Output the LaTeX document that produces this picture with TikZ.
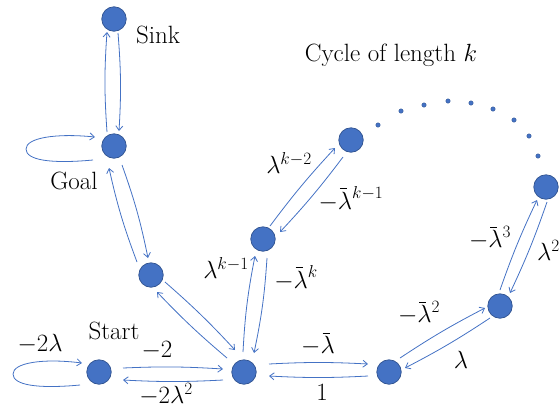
\documentclass[tikz,border=0pt]{standalone}
\usetikzlibrary{arrows.meta,calc}
\definecolor{nodefill}{HTML}{4472C4}
\definecolor{nodeline}{HTML}{2F528F}
\definecolor{edgecol}{HTML}{4472C4}
\newcommand{\lamb}{\mathord{\lambda\llap{\smash{\rule[0.77em]{0.27em}{0.04em}}\kern0.2em}}}
\begin{document}
\begin{tikzpicture}[x=1pt,y=-1pt,
  state/.style={circle,fill=nodefill,draw=nodeline,line width=0.7pt,minimum size=24.5pt,inner sep=0pt},
  arr/.style={draw=edgecol,line width=0.8pt,-{Straight Barb[length=4.5pt,width=7pt]}},
  dotnode/.style={circle,fill=nodefill,draw=nodeline,line width=0.3pt,minimum size=4.5pt,inner sep=0pt},
  txt/.style={inner sep=0pt,font=\fontsize{25}{30}\selectfont},
  lab/.style={inner sep=0pt,font=\fontsize{26}{30}\selectfont}]
\useasboundingbox (0,0) rectangle (559,408);
% states
\node[state] (sink)  at (114,19) {};
\node[state] (goal)  at (114,146) {};
\node[state] (mid)   at (151,275) {};
\node[state] (start) at (99,372) {};
\node[state] (hub)   at (244,372) {};
\node[state] (ca)    at (263,239) {};
\node[state] (cb)    at (351,140) {};
\node[state] (cc)    at (389,372) {};
\node[state] (cd)    at (500,306) {};
\node[state] (ce)    at (546,187) {};
% dots of the cycle
\foreach \p/\q [count=\i] in {378/125,401/111,424/105,448/101,471/103,493/109,514/120,529/136,538/156}
  \node[dotnode] (dot\i) at (\p,\q) {};
% text labels
\node[txt] (sinklab)  at (158,35) {Sink};
\node[txt] (goallab)  at (74,181) {Goal};
\node[txt] (startlab) at (114,331) {Start};
\node[txt] (cyclelab) at (391,55) {Cycle of length $k$};
% edges
\draw[arr] ($(goal)+(-7,-14)$) to[bend left=4] ($(sink)+(-7,13)$);
\draw[arr] ($(sink)+(4,14)$) to[bend left=4] ($(goal)+(5,-15)$);
\draw[arr] ($(goal)+(8,19)$) to[bend left=4] ($(mid)+(-3,-17)$);
\draw[arr] ($(mid)+(-14,-13)$) to[bend left=4] ($(goal)+(-5,22)$);
\draw[arr] ($(mid)+(14,7)$) to[bend left=3] ($(hub)+(-9,-22)$);
\draw[arr] ($(hub)+(-17,-14)$) to[bend left=3] ($(mid)+(6,17)$);
\draw[arr] ($(start)+(24,-4)$) to[bend left=3] ($(hub)+(-21,-3)$);
\draw[arr] ($(hub)+(-21,8)$) to[bend left=3] ($(start)+(24,8)$);
\draw[arr] ($(hub)+(-1,-20)$) to[bend left=4] ($(ca)+(-8,17)$);
\draw[arr] ($(ca)+(4,19)$) to[bend left=4] ($(hub)+(10,-19)$);
\draw[arr] ($(ca)+(7,-13)$) to[bend left=3] ($(cb)+(-16,8)$);
\draw[arr] ($(cb)+(-8,17)$) to[bend left=3] ($(ca)+(17,-7)$);
\draw[arr] ($(hub)+(25,-8)$) to[bend left=3] ($(cc)+(-21,-8)$);
\draw[arr] ($(cc)+(-21,4)$) to[bend left=3] ($(hub)+(25,4)$);
\draw[arr] ($(cc)+(11,-14)$) to[bend left=3] ($(cd)+(-15,2)$);
\draw[arr] ($(cd)+(-10,12)$) to[bend left=3] ($(cc)+(16,-4)$);
\draw[arr] ($(cd)+(0,-16)$) to[bend left=3] ($(ce)+(-9,13)$);
\draw[arr] ($(ce)+(1,15)$) to[bend left=3] ($(cd)+(10,-13)$);
% self loops
\begin{scope}[shift={(goal)}]
\draw[arr] (-21,14) .. controls (-64,18) and (-88,14) .. (-88,3)
                    .. controls (-88,-8) and (-59,-13) .. (-19,-9);
\end{scope}
\begin{scope}[shift={(start)}]
\draw[arr] (-19,13) .. controls (-62,17) and (-86,13) .. (-86,2)
                    .. controls (-86,-9) and (-57,-14) .. (-17,-9);
\end{scope}
% edge labels
\node[lab] (l1)  at (40,344)  {$-2\lambda$};
\node[lab] (l2)  at (157,351) {$-2$};
\node[lab] (l3)  at (166,394) {$-2\lambda^2$};
\node[lab] (l4)  at (226,268) {$\lambda^{k-1}$};
\node[lab] (l5)  at (289,163) {$\lambda^{k-2}$};
\node[lab] (l6)  at (351,199) {$-\lamb^{k-1}$};
\node[lab] (l7)  at (296,278) {$-\lamb^{k}$};
\node[lab] (l8)  at (318,346) {$-\lamb$};
\node[lab] (l9)  at (322,392) {$1$};
\node[lab] (l10) at (419,313) {$-\lamb^2$};
\node[lab] (l11) at (461,360) {$\lambda$};
\node[lab] (l12) at (490,238) {$-\lamb^3$};
\node[lab,anchor=west] (l13) at (537,250) {$\lambda^2$};
\end{tikzpicture}
\end{document}
